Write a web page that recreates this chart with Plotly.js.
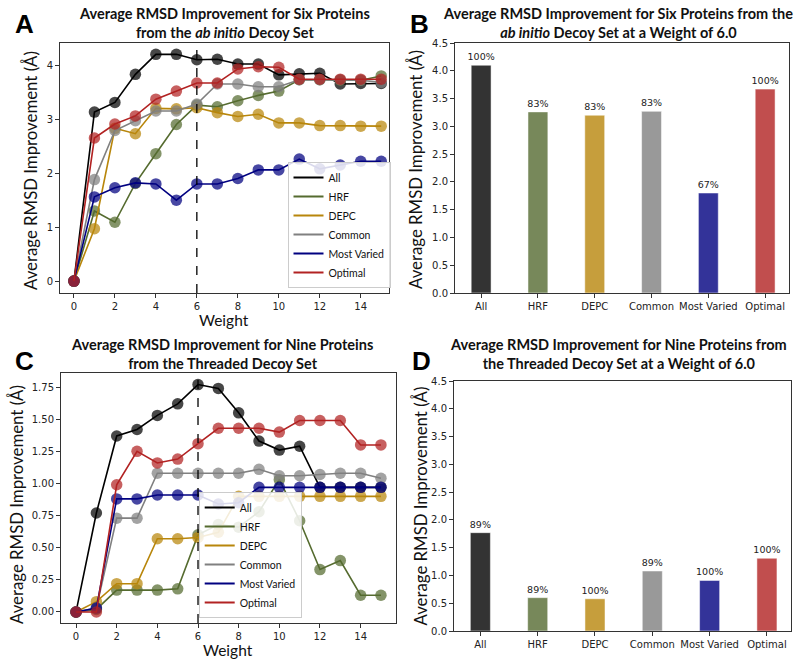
<!DOCTYPE html>
<html>
<head>
<meta charset="utf-8">
<script src="https://cdn.plot.ly/plotly-3.0.1.min.js"></script>
<style>html,body{margin:0;padding:0;background:#fff;}#chart{width:800px;height:666px;}</style>
</head>
<body>
<div id="chart"></div>
<script>
// ---------- data ----------
const weights = [0, 1, 2, 3, 4, 5, 6, 7, 8, 9, 10, 11, 12, 13, 14, 15];
const seriesNames = ["All", "HRF", "DEPC", "Common", "Most Varied", "Optimal"];

// Panel A: ab initio decoy set, six proteins
const abAll     = [0, 3.13, 3.31, 3.83, 4.20, 4.20, 4.10, 4.11, 4.02, 4.02, 3.82, 3.84, 3.85, 3.65, 3.66, 3.66];
const abHRF     = [0, 1.30, 1.09, 1.81, 2.36, 2.90, 3.26, 3.23, 3.34, 3.44, 3.52, 3.73, 3.73, 3.72, 3.72, 3.80];
const abDEPC    = [0, 0.97, 2.83, 2.73, 3.20, 3.19, 3.21, 3.12, 3.05, 3.09, 2.93, 2.93, 2.88, 2.88, 2.87, 2.87];
const abCommon  = [0, 1.88, 2.79, 2.97, 3.15, 3.15, 3.28, 3.65, 3.65, 3.60, 3.60, 3.73, 3.73, 3.73, 3.72, 3.68];
const abVaried  = [0, 1.56, 1.73, 1.82, 1.80, 1.50, 1.80, 1.80, 1.90, 2.06, 2.06, 2.26, 2.08, 2.15, 2.22, 2.22];
const abOptimal = [0, 2.65, 2.91, 3.06, 3.37, 3.52, 3.67, 3.67, 3.93, 3.97, 3.96, 3.74, 3.74, 3.74, 3.74, 3.74];

// Panel B: ab initio at weight 6.0
const abBarValues = [4.10, 3.26, 3.20, 3.27, 1.80, 3.67];
const abBarLabels = ["100%", "83%", "83%", "83%", "67%", "100%"];

// Panel C: threaded decoy set, nine proteins
const thAll     = [0, 0.77, 1.37, 1.42, 1.53, 1.62, 1.77, 1.74, 1.55, 1.33, 1.26, 1.29, 0.97, 0.97, 0.97, 0.97];
const thHRF     = [0, 0.02, 0.17, 0.17, 0.17, 0.18, 0.60, 0.68, 0.66, 0.78, 1.03, 0.71, 0.33, 0.40, 0.13, 0.13];
const thDEPC    = [0, 0.08, 0.22, 0.22, 0.57, 0.57, 0.58, 0.62, 0.90, 0.90, 0.90, 0.90, 0.90, 0.90, 0.90, 0.90];
const thCommon  = [0, 0.03, 0.73, 0.73, 1.08, 1.08, 1.08, 1.08, 1.08, 1.11, 1.06, 1.06, 1.07, 1.08, 1.08, 1.04];
const thVaried  = [0, 0.03, 0.88, 0.88, 0.91, 0.91, 0.91, 0.84, 0.85, 0.97, 0.97, 0.97, 0.97, 0.97, 0.97, 0.97];
const thOptimal = [0, 0.00, 0.99, 1.25, 1.16, 1.19, 1.31, 1.43, 1.43, 1.43, 1.40, 1.49, 1.49, 1.49, 1.30, 1.30];

// Panel D: threaded at weight 6.0
const thBarValues = [1.77, 0.60, 0.58, 1.08, 0.91, 1.31];
const thBarLabels = ["89%", "89%", "100%", "89%", "100%", "100%"];

const selectedWeight = 6;

// ---------- styling ----------
const lineColors = ["#000000", "#556B2F", "#B8860B", "#808080", "#000080", "#B22222"];
const barColors  = ["#333333", "#77885A", "#C69E3C", "#999999", "#333399", "#C14E4E"];
const tickFont = {family: "DejaVu Sans, sans-serif", size: 10, color: "#222"};
const labelFont = {family: "Lato, 'Open Sans', sans-serif", size: 16.8, color: "#111"};
const xLabelFont = {family: "Lato, 'Open Sans', sans-serif", size: 15.5, color: "#111"};
const titleFont = {family: "Lato, 'Open Sans', sans-serif", size: 14.5, color: "#111", weight: "bold"};
const yTitle = "Average RMSD Improvement (Å)";

const abSeries = [abAll, abHRF, abDEPC, abCommon, abVaried, abOptimal];
const thSeries = [thAll, thHRF, thDEPC, thCommon, thVaried, thOptimal];

const traces = [];
function addLines(series, xa, ya, legendName) {
  series.forEach((vals, i) => {
    traces.push({
      type: "scatter", mode: "lines+markers", x: weights, y: vals,
      xaxis: xa, yaxis: ya, name: seriesNames[i], showlegend: false,
      line: {color: lineColors[i], width: 1.6},
      marker: {color: lineColors[i], size: 11.5, opacity: 0.72, line: {width: 0}},
      hoverinfo: "x+y+name"
    });
  });
  // legend entries (line-only samples)
  series.forEach((vals, i) => {
    traces.push({
      type: "scatter", mode: "lines", x: [null], y: [null],
      xaxis: xa, yaxis: ya, name: seriesNames[i], legend: legendName,
      line: {color: lineColors[i], width: 2}
    });
  });
}
addLines(abSeries, "x", "y", "legend");
addLines(thSeries, "x3", "y3", "legend2");

function addBars(vals, labels, xa, ya) {
  traces.push({
    type: "bar", x: seriesNames, y: vals, xaxis: xa, yaxis: ya,
    text: labels, textposition: "outside", cliponaxis: false, constraintext: "none",
    textfont: {family: "DejaVu Sans, sans-serif", size: 9.5, color: "#222"},
    marker: {color: barColors, line: {color: "rgba(255,255,255,0.5)", width: 1}},
    width: 0.35, showlegend: false
  });
}
addBars(abBarValues, abBarLabels, "x2", "y2");
addBars(thBarValues, thBarLabels, "x4", "y4");

const W = 800, H = 666;
function px(a, b) { return [a / W, b / W]; }
function py(top, bottom) { return [1 - bottom / H, 1 - top / H]; }

const axBase = {
  showline: true, mirror: true, linecolor: "#333", linewidth: 1,
  ticks: "outside", ticklen: 4, tickcolor: "#333", tickwidth: 1,
  showgrid: false, zeroline: false, tickfont: tickFont, automargin: false
};

const legendFont = {family: "Lato, 'Open Sans', sans-serif", size: 10.5, color: "#111"};

function axisLabel(text, x, y, angle, font) {
  return {text: text, xref: "paper", yref: "paper", x: x / W, y: 1 - y / H,
    xanchor: "center", yanchor: "middle", textangle: angle, showarrow: false, font: font || labelFont};
}
function panelTitle(text, x, y) {
  return {text: text, xref: "paper", yref: "paper", x: x / W, y: 1 - y / H,
    xanchor: "center", yanchor: "top", showarrow: false, font: titleFont};
}
function panelLetter(letter, x, y) {
  return {text: "<b>" + letter + "</b>", xref: "paper", yref: "paper", x: x / W, y: 1 - y / H,
    xanchor: "center", yanchor: "middle", showarrow: false,
    font: {family: "Liberation Sans, Arial, sans-serif", size: 26, color: "#000"}};
}

const layout = {
  width: W, height: H, margin: {l: 0, r: 0, t: 0, b: 0},
  paper_bgcolor: "#fff", plot_bgcolor: "#fff",
  showlegend: true,
  xaxis: Object.assign({}, axBase, {domain: px(60, 389), range: [-0.68, 15.38], tickvals: [0, 2, 4, 6, 8, 10, 12, 14]}),
  yaxis: Object.assign({}, axBase, {domain: py(43, 293), range: [-0.22, 4.41], tickvals: [0, 1, 2, 3, 4]}),
  xaxis2: Object.assign({}, axBase, {domain: px(455, 789), range: [-0.46, 5.42], anchor: "y2"}),
  yaxis2: Object.assign({}, axBase, {domain: py(43, 293), range: [0, 4.5], dtick: 0.5, tickformat: ".1f", anchor: "x2"}),
  xaxis3: Object.assign({}, axBase, {domain: px(61, 396), range: [-0.74, 15.74], tickvals: [0, 2, 4, 6, 8, 10, 12, 14], anchor: "y3"}),
  yaxis3: Object.assign({}, axBase, {domain: py(373, 623), range: [-0.086, 1.86], dtick: 0.25, tickformat: ".2f", anchor: "x3"}),
  xaxis4: Object.assign({}, axBase, {domain: px(454, 791), range: [-0.46, 5.42], anchor: "y4"}),
  yaxis4: Object.assign({}, axBase, {domain: py(381, 631), range: [0, 4.5], dtick: 0.5, tickformat: ".1f", anchor: "x4"}),
  legend: {x: 390.5 / W, y: 1 - 288 / H, xanchor: "right", yanchor: "bottom",
    bgcolor: "rgba(255,255,255,0.85)", bordercolor: "#ccc", borderwidth: 1,
    font: legendFont, itemwidth: 30, tracegroupgap: 0},
  legend2: {x: 301.7 / W, y: 1 - 618 / H, xanchor: "right", yanchor: "bottom",
    bgcolor: "rgba(255,255,255,0.85)", bordercolor: "#ccc", borderwidth: 1,
    font: legendFont, itemwidth: 30, tracegroupgap: 0},
  shapes: [
    {type: "line", xref: "x", yref: "y domain", x0: selectedWeight, x1: selectedWeight, y0: 0, y1: 1,
      line: {color: "#000", width: 1.3, dash: "dash"}},
    {type: "line", xref: "x3", yref: "y3 domain", x0: selectedWeight, x1: selectedWeight, y0: 0, y1: 1,
      line: {color: "#000", width: 1.3, dash: "dash"}}
  ],
  annotations: [
    panelTitle("Average RMSD Improvement for Six Proteins<br>from the <i>ab initio</i> Decoy Set", 224, 3),
    panelTitle("Average RMSD Improvement for Six Proteins from the<br><i>ab initio</i> Decoy Set at a Weight of 6.0", 618, 3),
    panelTitle("Average RMSD Improvement for Nine Proteins<br>from the Threaded Decoy Set", 222, 334),
    panelTitle("Average RMSD Improvement for Nine Proteins from<br>the Threaded Decoy Set at a Weight of 6.0", 618, 334),
    panelLetter("A", 24, 24), panelLetter("B", 419, 24), panelLetter("C", 24, 361), panelLetter("D", 421, 361),
    axisLabel(yTitle, 30, 171, -90),
    axisLabel(yTitle, 415, 170, -90),
    axisLabel(yTitle, 17, 505, -90),
    axisLabel(yTitle, 419.5, 506, -90),
    axisLabel("Weight", 224, 320, 0, xLabelFont),
    axisLabel("Weight", 228, 650, 0, xLabelFont)
  ]
};

Plotly.newPlot("chart", traces, layout, {staticPlot: true, displayModeBar: false});
</script>
</body>
</html>
